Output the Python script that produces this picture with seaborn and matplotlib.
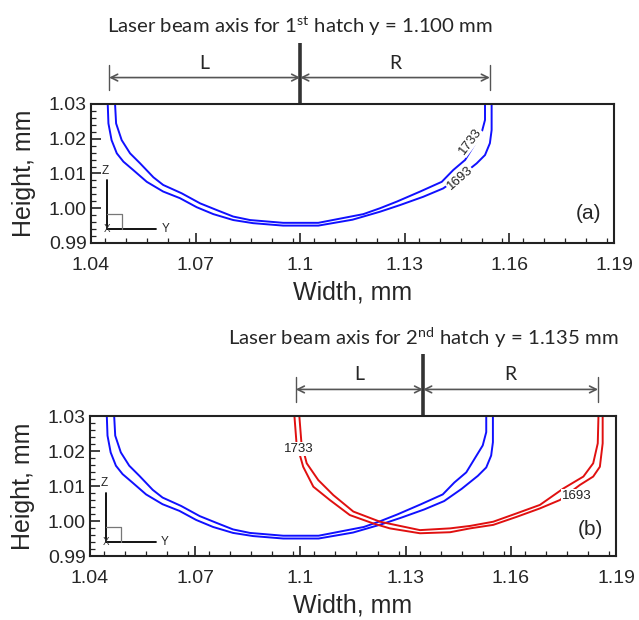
import matplotlib
matplotlib.use("Agg")
import matplotlib.pyplot as plt
from matplotlib.ticker import MultipleLocator, FormatStrFormatter, FuncFormatter
import pandas as pd
import seaborn as sns

# Melt-pool isotherm contours (width y, height z), mm
hatch1_1693_w = [1.0448, 1.0450, 1.0459, 1.0474, 1.0493, 1.0521, 1.0560, 1.0607, 1.0655,
                 1.0703, 1.0751, 1.0808, 1.0865, 1.0951, 1.1052, 1.1150, 1.1229, 1.1286,
                 1.1353, 1.1410, 1.1460, 1.1506, 1.1530, 1.1544, 1.1549, 1.1549]
hatch1_1693_z = [1.0300, 1.0244, 1.0196, 1.0158, 1.0134, 1.0110, 1.0076, 1.0048, 1.0029,
                 1.0003, 0.9983, 0.9966, 0.9957, 0.9950, 0.9950, 0.9967, 0.9990, 1.0009,
                 1.0033, 1.0057, 1.0092, 1.0129, 1.0153, 1.0187, 1.0225, 1.0300]

hatch1_1733_w = [1.0469, 1.0472, 1.0488, 1.0512, 1.0541, 1.0579, 1.0607, 1.0660, 1.0713,
                 1.0760, 1.0808, 1.0856, 1.0951, 1.1052, 1.1181, 1.1229, 1.1277, 1.1344,
                 1.1406, 1.1439, 1.1473, 1.1520, 1.1530, 1.1530]
hatch1_1733_z = [1.0300, 1.0244, 1.0196, 1.0158, 1.0129, 1.0089, 1.0067, 1.0043, 1.0014,
                 0.9995, 0.9976, 0.9966, 0.9958, 0.9958, 0.9983, 1.0000, 1.0019, 1.0048,
                 1.0076, 1.0110, 1.0139, 1.0216, 1.0254, 1.0300]

hatch2_1693_w = [1.0983, 1.0989, 1.1008, 1.1037, 1.1084, 1.1141, 1.1208, 1.1255, 1.1341,
                 1.1427, 1.1484, 1.1550, 1.1617, 1.1683, 1.1740, 1.1797, 1.1835, 1.1854,
                 1.1862, 1.1862]
hatch2_1693_z = [1.0300, 1.0222, 1.0155, 1.0098, 1.0060, 1.0017, 0.9993, 0.9979, 0.9965,
                 0.9968, 0.9979, 0.9989, 1.0012, 1.0036, 1.0060, 1.0103, 1.0127, 1.0155,
                 1.0222, 1.0300]

hatch2_1733_w = [1.0997, 1.1003, 1.1018, 1.1051, 1.1094, 1.1151, 1.1227, 1.1341, 1.1427,
                 1.1484, 1.1550, 1.1617, 1.1683, 1.1750, 1.1807, 1.1835, 1.1848, 1.1850]
hatch2_1733_z = [1.0300, 1.0223, 1.0165, 1.0117, 1.0074, 1.0027, 0.9998, 0.9974, 0.9979,
                 0.9986, 0.9998, 1.0022, 1.0046, 1.0093, 1.0127, 1.0165, 1.0222, 1.0300]

# Beam axes and melt-pool edges used for the L / R dimension marks
beam_axis = [1.100, 1.135]
pool_left = [1.0452, 1.0987]
pool_right = [1.1544, 1.1849]
titles = ["Laser beam axis for 1$^{\\mathregular{st}}$ hatch y = 1.100 mm",
          "Laser beam axis for 2$^{\\mathregular{nd}}$ hatch y = 1.135 mm"]
panel_tags = ["(a)", "(b)"]
x_ticks = [1.04, 1.07, 1.10, 1.13, 1.16, 1.19]
y_ticks = [0.99, 1.00, 1.01, 1.02, 1.03]

BLUE = "#1010ff"
RED = "#e01010"

sns.set_style("ticks")
plt.rcParams["font.family"] = ["Liberation Sans", "DejaVu Sans"]
plt.rcParams["mathtext.fontset"] = "custom"
plt.rcParams["xtick.direction"] = "in"
plt.rcParams["ytick.direction"] = "in"

fig = plt.figure(figsize=(6.39, 6.20), dpi=100)
ax_a = fig.add_axes([0.1424, 0.6081, 0.8185, 0.2242])
ax_b = fig.add_axes([0.1408, 0.1032, 0.8232, 0.2258])


def contour_frame(w, z):
    return pd.DataFrame({"width": w, "height": z})


def draw_contour(ax, w, z, color):
    sns.lineplot(data=contour_frame(w, z), x="width", y="height", sort=False,
                 estimator=None, color=color, lw=1.4, ax=ax)


def style_axes(ax):
    ax.set_xlim(1.04, 1.19)
    ax.set_ylim(0.99, 1.03)
    ax.set_xticks(x_ticks)
    ax.set_yticks(y_ticks)
    ax.xaxis.set_minor_locator(MultipleLocator(0.006))
    ax.yaxis.set_minor_locator(MultipleLocator(0.002))
    ax.xaxis.set_major_formatter(FuncFormatter(lambda v, p: f"{v:g}"))
    ax.yaxis.set_major_formatter(FormatStrFormatter("%.2f"))
    ax.tick_params(which="major", length=7, width=1.2, labelsize=14, color="#222")
    ax.tick_params(which="minor", length=3.5, width=0.9, color="#222")
    ax.tick_params(axis="x", which="major", pad=10)
    ax.tick_params(axis="y", which="major", pad=3)
    for s in ax.spines.values():
        s.set_linewidth(1.5)
        s.set_color("#222")
        s.set_visible(True)
    ax.set_xlabel("Width, mm", fontsize=18, labelpad=5)
    ax.set_ylabel("Height, mm", fontsize=18, labelpad=9)


def draw_triad(ax):
    t = ax.transAxes
    x0, y0 = 0.031, 0.10
    ax.plot([x0, x0], [y0, 0.45], color="black", lw=1.3, transform=t, clip_on=False)
    ax.plot([x0, 0.125], [y0, y0], color="black", lw=1.3, transform=t, clip_on=False)
    ax.plot([x0, 0.059, 0.059], [0.205, 0.205, y0], color="#777", lw=0.9, transform=t)
    ax.text(x0 - 0.003, 0.52, "Z", transform=t, fontsize=8.5, ha="center", va="center")
    ax.text(0.142, y0, "Y", transform=t, fontsize=8.5, ha="center", va="center")
    ax.text(x0, y0, "X", transform=t, fontsize=7, ha="center", va="center", color="#333")


def draw_beam_marks(ax, k):
    tr = ax.get_xaxis_transform()
    bx, lx, rx = beam_axis[k], pool_left[k], pool_right[k]
    h_px = 139.5
    off = lambda px: 1 + px / h_px
    ax.plot([bx, bx], [1.0, off(61.5)], color="#333", lw=2.6, transform=tr, clip_on=False,
            solid_capstyle="butt")
    for ex in (lx, rx):
        ax.plot([ex, ex], [off(14), off(39)], color="#555", lw=1.0, transform=tr, clip_on=False)
    for a, b in ((lx, bx), (bx, rx)):
        ax.annotate("", xy=(b, off(26.5)), xytext=(a, off(26.5)), xycoords=tr, textcoords=tr,
                    arrowprops=dict(arrowstyle="<->", color="#555", lw=1.2,
                                    shrinkA=0, shrinkB=0, mutation_scale=12))
    ax.text((lx + bx) / 2, off(41), "L", transform=tr, fontsize=14, family="Lato",
            ha="center", va="center")
    ax.text((bx + rx) / 2, off(41), "R", transform=tr, fontsize=14, family="Lato",
            ha="center", va="center")
    ax.text(bx, off(78), titles[k], transform=tr, fontsize=14.7, family="Lato",
            ha="center", va="center")


label_box = dict(facecolor="white", edgecolor="none", pad=0.6)

# (a) first hatch
draw_contour(ax_a, hatch1_1693_w, hatch1_1693_z, BLUE)
draw_contour(ax_a, hatch1_1733_w, hatch1_1733_z, BLUE)
style_axes(ax_a)
draw_triad(ax_a)
draw_beam_marks(ax_a, 0)
ax_a.text(1.1487, 1.0192, "1733", fontsize=9.5, rotation=53, ha="center", va="center",
          color="#222", bbox=label_box)
ax_a.text(1.1458, 1.0086, "1693", fontsize=9.5, rotation=41, ha="center", va="center",
          color="#222", bbox=label_box)
ax_a.text(0.951, 0.21, panel_tags[0], transform=ax_a.transAxes, fontsize=15,
          ha="center", va="center")

# (b) second hatch overlapping the first
draw_contour(ax_b, hatch1_1693_w, hatch1_1693_z, BLUE)
draw_contour(ax_b, hatch1_1733_w, hatch1_1733_z, BLUE)
draw_contour(ax_b, hatch2_1693_w, hatch2_1693_z, RED)
draw_contour(ax_b, hatch2_1733_w, hatch2_1733_z, RED)
style_axes(ax_b)
draw_triad(ax_b)
draw_beam_marks(ax_b, 1)
ax_b.text(1.0994, 1.0205, "1733", fontsize=9.5, ha="center", va="center",
          color="#222", bbox=label_box)
ax_b.text(1.1788, 1.0071, "1693", fontsize=9.5, ha="center", va="center",
          color="#222", bbox=label_box)
ax_b.text(0.951, 0.19, panel_tags[1], transform=ax_b.transAxes, fontsize=15,
          ha="center", va="center")

fig.savefig("out.png", dpi=100, facecolor="white")
